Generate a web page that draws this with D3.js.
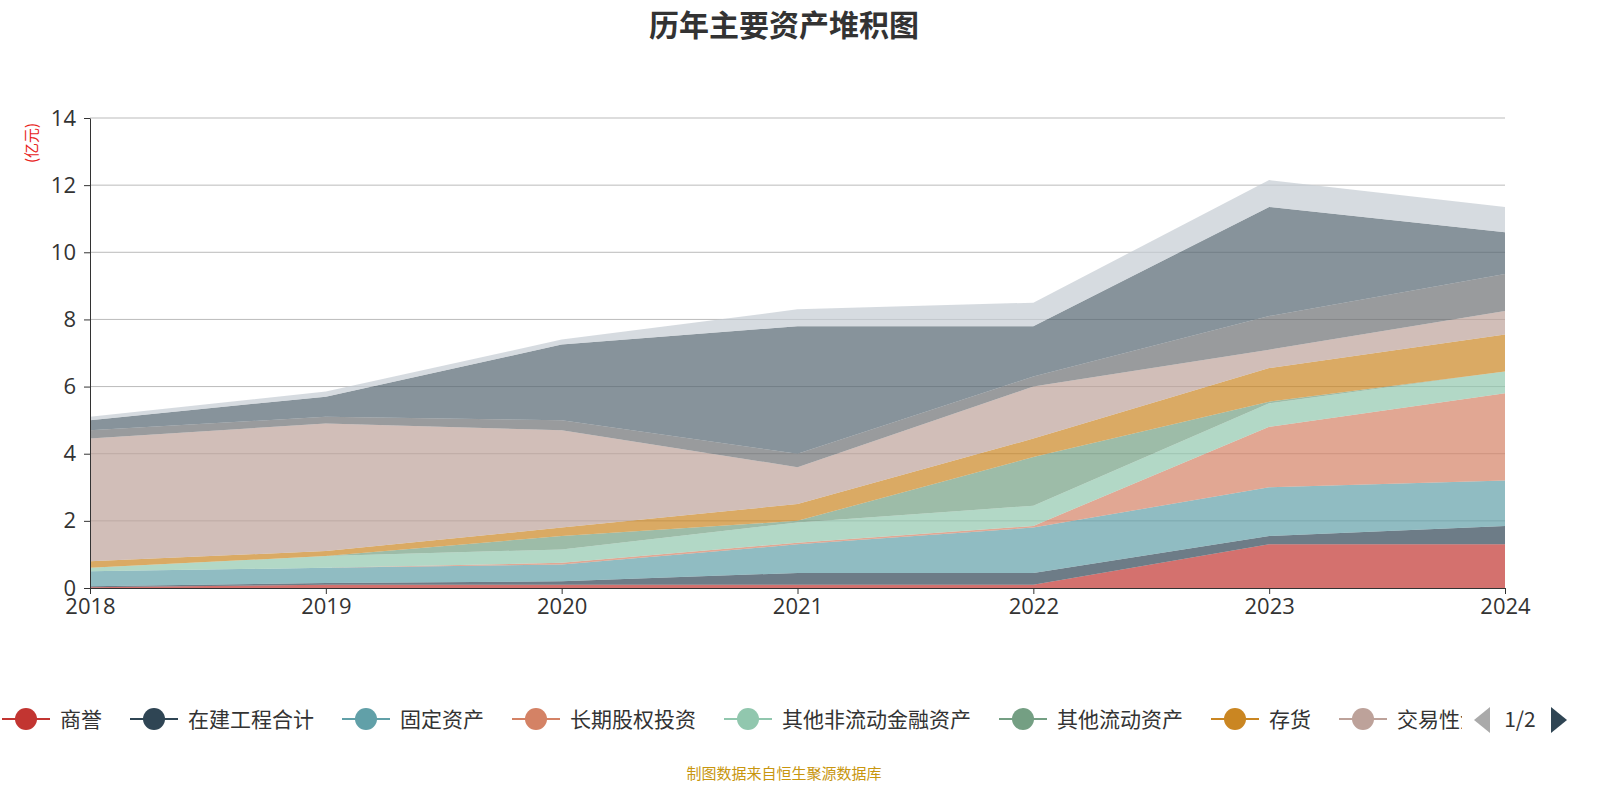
<!DOCTYPE html>
<html><head><meta charset="utf-8">
<script src="https://cdn.jsdelivr.net/npm/d3@7"></script>
<style>body{margin:0;background:#fff;font-family:"Noto Sans CJK SC","Noto Sans",sans-serif}</style>
</head><body><svg id="c" width="1600" height="800"></svg>
<script>
const years = ["2018","2019","2020","2021","2022","2023","2024"];
const seriesNames = ["商誉","在建工程合计","固定资产","长期股权投资","其他非流动金融资产","其他流动资产","存货","交易性金融资产","应收账款","货币资金","其他资产"];
const colors = ["#c23531","#2f4554","#61a0a8","#d48265","#91c7ae","#749f83","#ca8622","#bda29a","#6e7074","#546570","#c4ccd3"];
// per-series values (亿元)
const s0 = [0.02,0.10,0.10,0.10,0.10,1.30,1.30];
const s1 = [0.03,0.05,0.10,0.35,0.35,0.25,0.55];
const s2 = [0.45,0.45,0.50,0.85,1.35,1.45,1.35];
const s3 = [0.00,0.00,0.05,0.05,0.05,1.80,2.60];
const s4 = [0.10,0.35,0.40,0.60,0.60,0.70,0.65];
const s5 = [0.00,0.00,0.40,0.05,1.45,0.05,0.00];
const s6 = [0.20,0.15,0.25,0.50,0.55,1.00,1.10];
const s7 = [3.65,3.80,2.90,1.10,1.55,0.55,0.70];
const s8 = [0.25,0.20,0.30,0.40,0.30,1.00,1.10];
const s9 = [0.30,0.60,2.25,3.80,1.50,3.25,1.25];
const s10 = [0.10,0.15,0.15,0.50,0.70,0.80,0.75];
const yTicks = [0,2,4,6,8,10,12,14];
const legendShown = 8;

const all = [s0,s1,s2,s3,s4,s5,s6,s7,s8,s9,s10];
const rows = years.map((y,i)=>{const o={year:y};all.forEach((s,k)=>o[k]=s[i]);return o;});
const stack = d3.stack().keys(all.map((_,k)=>k))(rows);
const svg = d3.select("#c");
const x = d3.scalePoint().domain(years).range([90,1505]);
const y = d3.scaleLinear().domain([0,14]).range([588,118]);

svg.append("g").selectAll("line").data(yTicks.slice(1)).join("line")
 .attr("x1",90).attr("x2",1505).attr("y1",d=>y(d)).attr("y2",d=>y(d)).attr("stroke","#bbb").attr("stroke-width",1);

const area = d3.area().x(d=>x(d.data.year)).y0(d=>y(d[0])).y1(d=>y(d[1]));
svg.append("g").selectAll("path").data(stack).join("path")
 .attr("d",area).attr("fill",(d,i)=>colors[i]).attr("fill-opacity",0.7);

const ya = svg.append("g").attr("transform","translate(90,0)")
 .call(d3.axisLeft(y).tickValues(yTicks).tickSize(6).tickSizeOuter(0));
const xa = svg.append("g").attr("transform","translate(0,588)")
 .call(d3.axisBottom(x).tickSize(6).tickSizeOuter(0));
[ya,xa].forEach(a=>{a.select(".domain").attr("stroke","#333");a.selectAll("line").attr("stroke","#333");
 a.selectAll("text").attr("font-size",22).attr("fill","#333").attr("font-family","'Open Sans','Noto Sans CJK SC',sans-serif");});
ya.selectAll("text").attr("x",-14);
xa.selectAll("text").attr("y",10);

svg.append("text").attr("x",784).attr("y",36).attr("text-anchor","middle").attr("font-size",30).attr("font-weight","bold").attr("fill","#333").text("历年主要资产堆积图");
svg.append("text").attr("transform","translate(37,143) rotate(-90)").attr("text-anchor","middle").attr("font-size",15).attr("fill","#e8231c").text("(亿元)");

const lg = svg.append("g");
svg.append("clipPath").attr("id","lc").append("rect").attr("x",0).attr("y",690).attr("width",1462).attr("height",50);
lg.attr("clip-path","url(#lc)");
let lx = 2;
seriesNames.slice(0,legendShown).forEach((n,i)=>{
  const g = lg.append("g").attr("transform",`translate(${lx},719)`);
  g.append("line").attr("x1",0).attr("x2",48).attr("stroke",colors[i]).attr("stroke-width",2);
  g.append("circle").attr("cx",24).attr("r",11).attr("fill",colors[i]);
  const t = g.append("text").attr("x",58).attr("y",8).attr("font-size",21).attr("fill","#333").text(n);
  lx += 58 + t.node().getComputedTextLength() + 28;
});
svg.append("path").attr("d","M1490,707 L1490,733 L1474,720 Z").attr("fill","#aaa");
svg.append("text").attr("x",1520).attr("y",727).attr("text-anchor","middle").attr("font-size",21).attr("fill","#333").text("1/2");
svg.append("path").attr("d","M1551,707 L1551,733 L1567,720 Z").attr("fill","#2f4554");
svg.append("text").attr("x",784).attr("y",779).attr("text-anchor","middle").attr("font-size",15).attr("fill","#c8960f").text("制图数据来自恒生聚源数据库");
</script></body></html>
